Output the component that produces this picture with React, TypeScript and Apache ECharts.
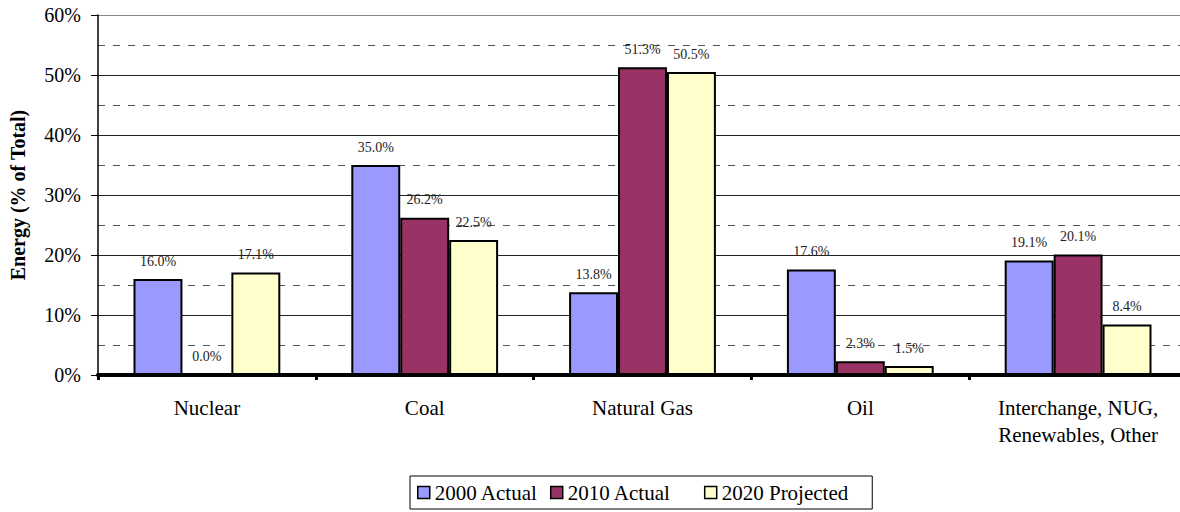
import React, { useEffect, useRef } from "react";
import * as echarts from "echarts";

const categories = ["Nuclear", "Coal", "Natural Gas", "Oil", "Interchange, NUG,\nRenewables, Other"];
const seriesNames = ["2000 Actual", "2010 Actual", "2020 Projected"];
const values2000 = [16.0, 35.0, 13.8, 17.6, 19.1];
const values2010 = [0.0, 26.2, 51.3, 2.3, 20.1];
const values2020 = [17.1, 22.5, 50.5, 1.5, 8.4];
const seriesColors = ["#9999FF", "#993366", "#FFFFCC"];

const FONT = "'Liberation Serif', 'Times New Roman', serif";

export default function App() {
  const ref = useRef<HTMLDivElement>(null);
  useEffect(() => {
    if (!ref.current) return;
    const chart = echarts.init(ref.current, undefined, { renderer: "svg" });
    const data = [values2000, values2010, values2020];
    chart.setOption({
      animation: false,
      textStyle: { fontFamily: FONT },
      grid: { left: 97, top: 15, width: 1090, height: 360, containLabel: false },
      legend: {
        left: 410,
        top: 476,
        padding: [6, 24, 6, 7],
        borderColor: "#000",
        borderWidth: 1,
        itemWidth: 12,
        itemHeight: 12,
        itemGap: 12,
        itemTextGap: 6,
        icon: "rect",
        itemStyle: { borderColor: "#000", borderWidth: 1.5 },
        textStyle: { fontFamily: FONT, fontSize: 21, color: "#000" },
        formatter: (name: string) => (name === seriesNames[1] ? name + "    " : name),
        data: seriesNames,
      },
      xAxis: {
        type: "category",
        data: categories,
        axisLine: { show: true, lineStyle: { color: "#000", width: 4 } },
        axisTick: { show: true, length: 5, lineStyle: { color: "#000", width: 3 } },
        axisLabel: { fontFamily: FONT, fontSize: 21, color: "#000", margin: 19, lineHeight: 27 },
        splitLine: { show: false },
      },
      yAxis: {
        type: "value",
        min: 0,
        max: 60,
        interval: 10,
        name: "Energy (% of Total)",
        nameLocation: "middle",
        nameGap: 70,
        nameTextStyle: { fontFamily: FONT, fontSize: 20, fontWeight: "bold", color: "#000" },
        axisLine: { show: true, lineStyle: { color: "#000", width: 1.5 } },
        axisTick: { show: true, length: 7, lineStyle: { color: "#000", width: 1 } },
        axisLabel: { fontFamily: FONT, fontSize: 20, color: "#000", margin: 17, formatter: "{value}%" },
        splitLine: {
          show: true,
          lineStyle: { color: ["#222", "#222", "#222", "#222", "#222", "#222", "#888"], width: 1 },
        },
        minorTick: { show: false, splitNumber: 2 },
        minorSplitLine: { show: true, lineStyle: { color: "#555", width: 1, type: [7, 8] } },
      },
      series: seriesNames.map((name, i) => ({
        name,
        type: "bar",
        data: data[i],
        barGap: "0%",
        barCategoryGap: "32.6%",
        itemStyle: { color: seriesColors[i], borderColor: "#000", borderWidth: 2 },
        label: {
          show: true,
          position: "top",
          distance: 11,
          fontFamily: FONT,
          fontSize: 14,
          color: "#222",
          formatter: (p: any) => Number(p.value).toFixed(1) + "%",
        },
      })),
    });
    return () => chart.dispose();
  }, []);
  return (
    <div style={{ position: "fixed", left: 0, top: 0, width: 1180, height: 512, overflow: "hidden", background: "#fff" }}>
      <div ref={ref} style={{ width: 1200, height: 512 }} />
    </div>
  );
}
